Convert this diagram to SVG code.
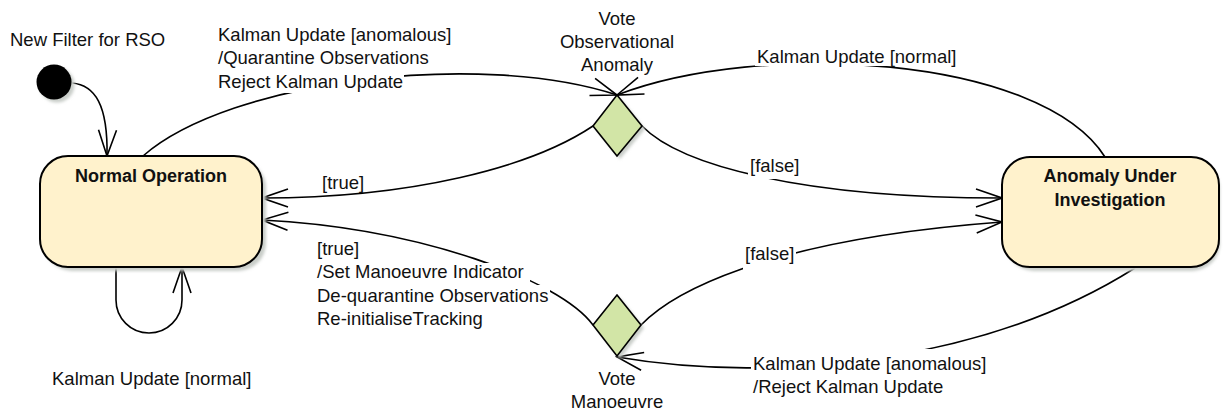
<svg xmlns="http://www.w3.org/2000/svg" width="1224" height="411" viewBox="0 0 1224 411">
<style>
text{font-family:"Liberation Sans",Arial,sans-serif;font-size:18.5px;fill:#111}
.title{font-weight:bold;text-anchor:middle;font-size:18px}
.mid{text-anchor:middle}
.state{fill:#fff2cc;stroke:#000;stroke-width:2}
.choice{fill:#d2e5a6;stroke:#000;stroke-width:1.6}
.shadow{fill:#c9cec9;filter:url(#blur)}
.conn{fill:none;stroke:#000;stroke-width:1.6;marker-end:url(#arrow)}
.bg{fill:#fff}
</style>
<defs>
<filter id="blur" x="-20%" y="-20%" width="140%" height="140%"><feGaussianBlur stdDeviation="1.5"/></filter>
<marker id="arrow" markerUnits="userSpaceOnUse" orient="auto" viewBox="-28 -11 30 22" refX="0" refY="0" markerWidth="30" markerHeight="22">
<path d="M-26,-9 L0,0 L-26,9" fill="none" stroke="#000" stroke-width="1.6"/>
</marker>
</defs>
<rect width="1224" height="411" fill="#fff"/>

<g id="connectors">
<path class="conn" d="M72,83 C95,85 108,105 107,156"/>
<path class="conn" d="M143,156 C230,80 480,50 617,95"/>
<path class="conn" d="M1105,157 C1040,55 760,40 617,95"/>
<path class="conn" d="M593,126 C530,168 410,198 262,198"/>
<path class="conn" d="M642,126 C680,165 800,198 1002,198"/>
<path class="conn" d="M593,325 C560,280 420,228 262,220"/>
<path class="conn" d="M641,325 C670,295 760,240 1002,222"/>
<path class="conn" d="M1135,268 C990,360 780,385 617,357"/>
<path class="conn" d="M116,267 L116,300 A33,33 0 0 0 182,300 L182,267"/>
</g>

<g id="labels">
<text x="10" y="45.5">New Filter for RSO</text>
<rect class="bg" x="216" y="72" width="188" height="21"/>
<text x="218" y="40.5">Kalman Update [anomalous]</text>
<text x="218" y="64">/Quarantine Observations</text>
<text x="218" y="87.5">Reject Kalman Update</text>
<rect class="bg" x="755" y="46" width="204" height="20"/>
<text x="757" y="63">Kalman Update [normal]</text>
<text x="322" y="188.5">[true]</text>
<rect class="bg" x="748" y="157" width="53" height="22"/>
<text x="750" y="172">[false]</text>
<rect class="bg" x="743" y="244" width="53" height="27"/>
<text x="745" y="259.5">[false]</text>
<rect class="bg" x="315" y="263" width="215" height="20"/>
<rect class="bg" x="315" y="285" width="235" height="21"/>
<text x="317" y="254.5">[true]</text>
<text x="317" y="278">/Set Manoeuvre Indicator</text>
<text x="317" y="301.5">De-quarantine Observations</text>
<text x="317" y="325">Re-initialiseTracking</text>
<rect class="bg" x="751" y="349" width="238" height="26"/>
<text x="753" y="370">Kalman Update [anomalous]</text>
<text x="753" y="393">/Reject Kalman Update</text>
<text x="52" y="385">Kalman Update [normal]</text>
</g>

<g id="initial">
<circle class="shadow" cx="57" cy="85" r="17.5"/>
<circle cx="54" cy="82" r="17.5" fill="#000"/>
</g>

<g id="normal-operation">
<rect class="shadow" x="44" y="160" width="222" height="111" rx="28"/>
<rect class="state" x="40" y="156" width="222" height="111" rx="28"/>
<text class="title" x="151" y="181.5">Normal Operation</text>
</g>

<g id="anomaly-under-investigation">
<rect class="shadow" x="1006" y="161" width="214" height="110" rx="28"/>
<rect class="state" x="1002" y="157" width="217" height="110" rx="28"/>
<text class="title" x="1110" y="181.5">Anomaly Under</text>
<text class="title" x="1110" y="205.5">Investigation</text>
</g>

<g id="vote-observational-anomaly">
<path class="shadow" d="M620,98 L645,129 L620,159 L596,129 Z"/>
<path class="choice" d="M617,95 L642,126 L617,156 L593,126 Z"/>
<text class="mid" x="617" y="24.5">Vote</text>
<text class="mid" x="617" y="47.5">Observational</text>
<text class="mid" x="617" y="70.5">Anomaly</text>
</g>

<g id="vote-manoeuvre">
<path class="shadow" d="M620,298 L644,328 L620,359 L596,328 Z"/>
<path class="choice" d="M617,295 L641,325 L617,356 L593,325 Z"/>
<text class="mid" x="617" y="385">Vote</text>
<text class="mid" x="617" y="408">Manoeuvre</text>
</g>
</svg>
